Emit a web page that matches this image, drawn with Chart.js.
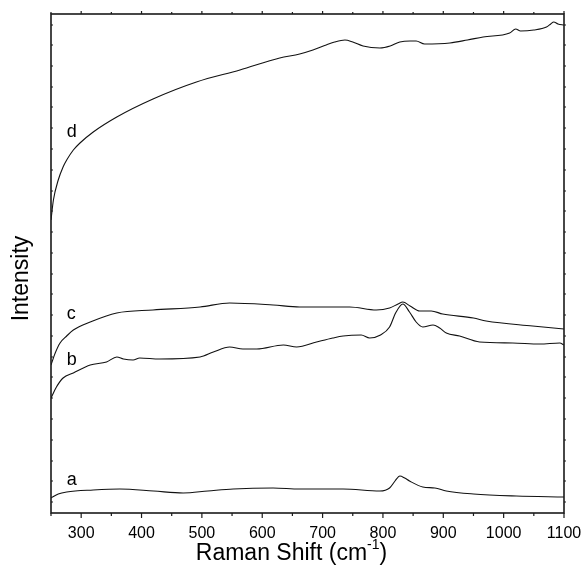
<!DOCTYPE html>
<html>
<head>
<meta charset="utf-8">
<script src="https://cdn.jsdelivr.net/npm/chart.js@4.4.1/dist/chart.umd.min.js"></script>
<style>
  html, body { margin: 0; padding: 0; background: #fff; }
  #wrap { width: 585px; height: 567px; position: relative; }
</style>
</head>
<body>
<div id="wrap"><canvas id="ramanChart"></canvas></div>
<script>
// Raman shift (cm-1) and intensity (a.u.)
var aShift = [250, 262, 276, 320, 364, 420, 469, 510, 552, 618, 662, 734, 795, 811, 820, 828, 836, 844, 866, 886, 905, 950, 1021, 1100];
var aInt = [15, 19, 21, 23, 24, 22, 20, 22, 24, 25, 24, 24, 22, 25, 32, 37, 35, 32, 26, 25, 22, 19, 17, 16];

var bShift = [250, 259, 270, 287, 315, 342, 359, 370, 386, 397, 430, 497, 519, 546, 568, 591, 635, 657, 690, 717, 734, 764, 778, 796, 811, 821, 833, 844, 855, 866, 883, 894, 905, 927, 960, 1015, 1060, 1093, 1100];
var bInt = [115, 126, 135, 140, 148, 151, 156, 154, 153, 155, 154, 156, 161, 166, 164, 164, 168, 166, 171, 175, 177, 178, 175, 178, 186, 200, 209, 201, 191, 186, 188, 185, 180, 177, 171, 170, 169, 170, 168];

var cShift = [250, 257, 265, 276, 287, 315, 359, 419, 497, 546, 618, 662, 745, 789, 811, 825, 833, 845, 861, 880, 899, 950, 971, 1048, 1100];
var cInt = [148, 160, 170, 177, 183, 191, 200, 203, 206, 210, 208, 206, 206, 203, 205, 209, 211, 207, 202, 202, 199, 195, 192, 187, 184];

var dShift = [250, 254, 262, 270, 276, 287, 298, 320, 359, 419, 491, 563, 629, 662, 684, 706, 720, 737, 750, 767, 795, 812, 828, 845, 855, 869, 911, 940, 966, 1010, 1020, 1028, 1050, 1071, 1078, 1083, 1090, 1100];
var dInt = [293, 313, 333, 346, 353, 363, 370, 381, 396, 414, 431, 443, 455, 459, 463, 468, 471, 473, 471, 467, 465, 467, 471, 472, 472, 469, 470, 473, 476, 480, 484, 482, 483, 486, 489, 491, 489, 488];

var xTickLabels = [300, 400, 500, 600, 700, 800, 900, 1000, 1100];
var xMinorTicks = [250, 350, 450, 550, 650, 750, 850, 950, 1050];
var yTicks = [488, 468, 447, 426, 406, 385, 364, 343, 322, 302, 281, 260, 239, 219, 198, 177, 156, 136, 115, 94, 73, 52, 32, 11];

// curve letters, placed at the shift / intensity of their baseline
var curveNames = ['a', 'b', 'c', 'd'];
var nameShift = [276, 276, 276, 276];
var nameInt = [28, 148, 194, 376];

var FONT = '"Liberation Sans", Arial, sans-serif';

function toPoints(xs, ys) {
  var pts = [];
  for (var i = 0; i < xs.length; i++) {
    pts.push({ x: xs[i], y: ys[i] });
  }
  return pts;
}

function spectrum(xs, ys) {
  return {
    data: toPoints(xs, ys),
    borderColor: '#111',
    borderWidth: 1.1,
    pointRadius: 0,
    fill: false,
    cubicInterpolationMode: 'monotone'
  };
}

// frame, tick marks, titles and curve letters
var decorations = {
  id: 'decorations',
  afterDatasetsDraw: function (chart) {
    var ctx = chart.ctx;
    var area = chart.chartArea;
    var xs = chart.scales.x;
    var ys = chart.scales.y;
    ctx.save();
    ctx.strokeStyle = '#1a1a1a';
    ctx.lineWidth = 1.6;
    ctx.strokeRect(area.left, area.top, area.right - area.left, area.bottom - area.top);

    ctx.lineWidth = 1.2;
    ctx.beginPath();
    xTickLabels.forEach(function (v) {
      var px = xs.getPixelForValue(v);
      ctx.moveTo(px, area.bottom); ctx.lineTo(px, area.bottom + 5);
      ctx.moveTo(px, area.top); ctx.lineTo(px, area.top - 3);
    });
    xMinorTicks.forEach(function (v) {
      var px = xs.getPixelForValue(v);
      ctx.moveTo(px, area.bottom); ctx.lineTo(px, area.bottom + 3);
      ctx.moveTo(px, area.top); ctx.lineTo(px, area.top - 2);
    });
    yTicks.forEach(function (v) {
      var py = ys.getPixelForValue(v);
      ctx.moveTo(area.left, py); ctx.lineTo(area.left + 2, py);
      ctx.moveTo(area.right, py); ctx.lineTo(area.right + 2, py);
    });
    ctx.stroke();

    ctx.fillStyle = '#000';
    ctx.font = '18px ' + FONT;
    ctx.textAlign = 'left';
    ctx.textBaseline = 'alphabetic';
    for (var i = 0; i < curveNames.length; i++) {
      ctx.fillText(curveNames[i], xs.getPixelForValue(nameShift[i]), ys.getPixelForValue(nameInt[i]));
    }

    // x axis title with superscript
    ctx.font = '23px ' + FONT;
    var main = 'Raman Shift (cm';
    var sup = '-1';
    var tail = ')';
    var wMain = ctx.measureText(main).width;
    ctx.font = '14px ' + FONT;
    var wSup = ctx.measureText(sup).width;
    ctx.font = '23px ' + FONT;
    var wTail = ctx.measureText(tail).width;
    var startX = (area.left + area.right) / 2 - 16 - (wMain + wSup + wTail) / 2;
    var baseY = 560;
    ctx.fillText(main, startX, baseY);
    ctx.font = '14px ' + FONT;
    ctx.fillText(sup, startX + wMain, baseY - 11);
    ctx.font = '23px ' + FONT;
    ctx.fillText(tail, startX + wMain + wSup, baseY);

    // y axis title
    ctx.translate(28, (area.top + area.bottom) / 2 + 15);
    ctx.rotate(-Math.PI / 2);
    ctx.textAlign = 'center';
    ctx.fillText('Intensity', 0, 0);
    ctx.restore();
  }
};

var ctx = document.getElementById('ramanChart').getContext('2d');
var ramanChart = new Chart(ctx, {
  type: 'line',
  data: {
    datasets: [
      spectrum(aShift, aInt),
      spectrum(bShift, bInt),
      spectrum(cShift, cInt),
      spectrum(dShift, dInt)
    ]
  },
  options: {
    responsive: true,
    maintainAspectRatio: false,
    animation: false,
    events: [],
    layout: { padding: { left: 51, right: 21, top: 14, bottom: 0 } },
    plugins: {
      legend: { display: false },
      tooltip: { enabled: false }
    },
    scales: {
      x: {
        type: 'linear',
        min: 250,
        max: 1100,
        grid: { display: false },
        border: { display: false },
        afterBuildTicks: function (scale) {
          scale.ticks = xTickLabels.map(function (v) { return { value: v }; });
        },
        afterFit: function (scale) { scale.height = 54; },
        ticks: {
          maxRotation: 0,
          autoSkip: false,
          padding: 3,
          color: '#000',
          font: { family: FONT, size: 16 },
          callback: function (value) { return String(value); }
        }
      },
      y: {
        type: 'linear',
        min: 0,
        max: 499,
        display: false
      }
    }
  },
  plugins: [decorations]
});
</script>
</body>
</html>
